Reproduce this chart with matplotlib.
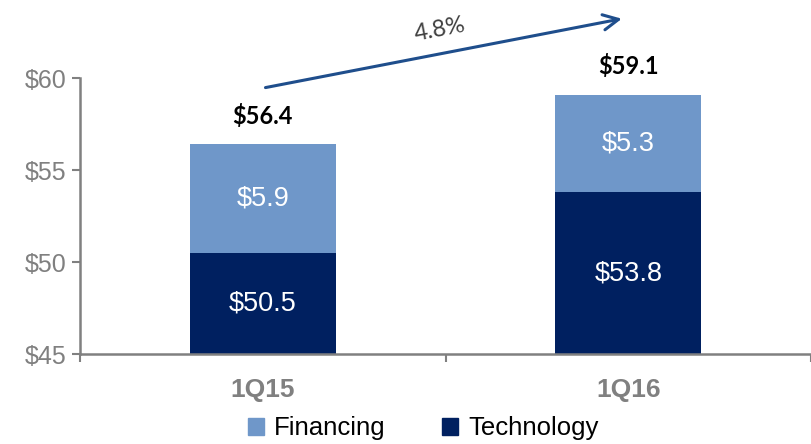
import matplotlib
matplotlib.use('Agg')
import matplotlib.pyplot as plt
from matplotlib.patches import Patch

# data
quarters = ['1Q15', '1Q16']
technology = [50.5, 53.8]
financing = [5.9, 5.3]
growth_label = '4.8%'
yticks = [45, 50, 55, 60]

tech_color = '#002060'
fin_color = '#6F97C9'
grey = '#808080'

plt.rcParams['font.family'] = ['Liberation Sans', 'DejaVu Sans']

fig = plt.figure(figsize=(8.11, 4.44), dpi=100)
ax = fig.add_axes([80 / 811, 90 / 444, 731 / 811, 276 / 444])

x = list(range(len(quarters)))
bottom = 45
tech_h = [t - bottom for t in technology]
totals = [t + f for t, f in zip(technology, financing)]

ax.bar(x, tech_h, bottom=bottom, width=0.4, color=tech_color, zorder=2)
ax.bar(x, financing, bottom=technology, width=0.4, color=fin_color, zorder=2)

for i in x:
    ax.text(i, (bottom + technology[i]) / 2, '${:.1f}'.format(technology[i]),
            ha='center', va='center', color='white', fontsize=19.5)
    ax.text(i, technology[i] + financing[i] / 2, '${:.1f}'.format(financing[i]),
            ha='center', va='center', color='white', fontsize=19.5)
    ax.text(i, totals[i] + 1.55, '${:.1f}'.format(totals[i]), ha='center',
            va='center', color='black', fontsize=17, fontweight='bold',
            family=['Lato', 'DejaVu Sans'], clip_on=False)

# growth arrow
ax.annotate('', xy=(0.99, 63.25), xytext=(0.0, 59.45),
            arrowprops=dict(arrowstyle='->,head_length=1.1,head_width=0.55',
                            color='#1F4E8C', lw=2.2),
            annotation_clip=False)
ax.text(0.485, 62.6, growth_label, rotation=11, ha='center', va='center',
        color='#404040', fontsize=17, family=['Lato', 'DejaVu Sans'])

ax.set_xlim(-0.5, 1.5)
ax.set_ylim(45, 60)

for s in ['top', 'right']:
    ax.spines[s].set_visible(False)
for s in ['left', 'bottom']:
    ax.spines[s].set_color(grey)
    ax.spines[s].set_linewidth(1.8)

ax.set_yticks(yticks)
ax.set_yticklabels(['${}'.format(v) for v in yticks])
ax.tick_params(axis='y', colors=grey, labelsize=18, length=6, width=1.5,
               pad=4)

ax.set_xticks([-0.5, 0.5, 1.5])
ax.set_xticklabels([])
ax.tick_params(axis='x', which='major', colors=grey, length=6, width=1.5)
ax.set_xticks(x, minor=True)
ax.set_xticklabels(quarters, minor=True)
ax.tick_params(axis='x', which='minor', length=0, pad=17, labelsize=19,
               labelcolor=grey)
for lbl in ax.get_xticklabels(minor=True):
    lbl.set_fontweight('bold')

handles = [Patch(color=fin_color, label='Financing'),
           Patch(color=tech_color, label='Technology')]
fig.legend(handles=handles, loc='center', bbox_to_anchor=(0.522, 0.035),
           ncol=2, frameon=False, fontsize=18.5, handlelength=0.6,
           handleheight=0.6, handletextpad=0.4, columnspacing=2.2)

fig.savefig('out.png', dpi=100)
